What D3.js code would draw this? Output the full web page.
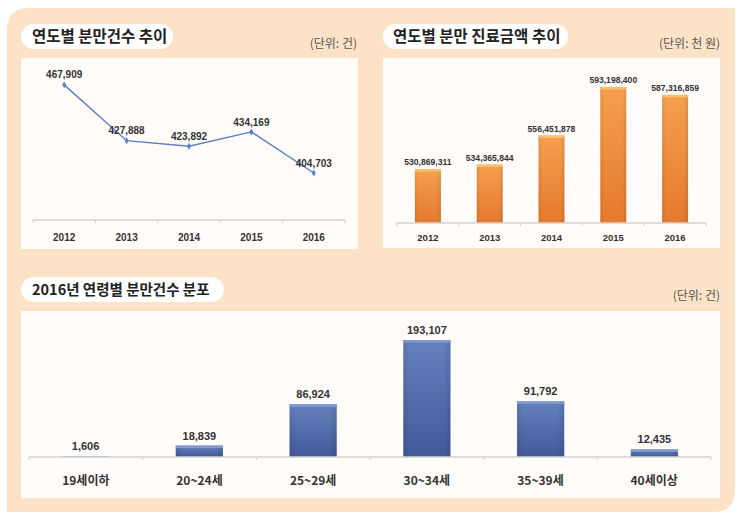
<!DOCTYPE html>
<html><head><meta charset="utf-8">
<script src="https://cdn.jsdelivr.net/npm/d3@7"></script>
<style>
html,body{margin:0;padding:0;background:#fff;}
svg{display:block;}
</style></head>
<body>
<script>
const years = ["2012","2013","2014","2015","2016"];
const birthCounts = [467909, 427888, 423892, 434169, 404703];
const medicalCosts = [530869311, 534365844, 556451878, 593198400, 587316859];
const ageGroups = ["19세이하","20~24세","25~29세","30~34세","35~39세","40세이상"];
const ageCounts = [1606, 18839, 86924, 193107, 91792, 12435];
const titles = ["연도별 분만건수 추이","연도별 분만 진료금액 추이","2016년 연령별 분만건수 분포"];
const units = ["(단위: 건)","(단위: 천 원)","(단위: 건)"];

const W = 743, H = 520;
const svg = d3.select("body").append("svg").attr("width", W).attr("height", H);
const KR = "'Noto Sans CJK KR','Noto Sans',sans-serif";
const NUM = "'Liberation Sans',Arial,sans-serif";
const fmt = d3.format(",");

const defs = svg.append("defs");
const og = defs.append("linearGradient").attr("id","og").attr("x1",0).attr("y1",0).attr("x2",0).attr("y2",1);
og.append("stop").attr("offset","0").attr("stop-color","#f5a04e");
og.append("stop").attr("offset","1").attr("stop-color","#e5792e");
const oh = defs.append("linearGradient").attr("id","oh").attr("x1",0).attr("y1",0).attr("x2",1).attr("y2",0);
oh.append("stop").attr("offset","0").attr("stop-color","#000").attr("stop-opacity",0.08);
oh.append("stop").attr("offset","0.15").attr("stop-color","#000").attr("stop-opacity",0);
oh.append("stop").attr("offset","0.85").attr("stop-color","#000").attr("stop-opacity",0);
oh.append("stop").attr("offset","1").attr("stop-color","#000").attr("stop-opacity",0.1);
const bg = defs.append("linearGradient").attr("id","bg").attr("x1",0).attr("y1",0).attr("x2",0).attr("y2",1);
bg.append("stop").attr("offset","0").attr("stop-color","#6482bd");
bg.append("stop").attr("offset","1").attr("stop-color","#42599a");

// peach background with rounded TL and BR corners
const x0=7,y0=8,x1=735,y1=512,r=22;
svg.append("path")
  .attr("d",`M${x0},${y0+r} Q${x0},${y0} ${x0+r},${y0} L${x1},${y0} L${x1},${y1-r} Q${x1},${y1} ${x1-r},${y1} L${x0},${y1} Z`)
  .attr("fill","#fce3c8");

// inner panels
const panels = [[21,58,337,191],[383,58,337,190],[21,311,699,187]];
panels.forEach(p=>svg.append("rect").attr("x",p[0]).attr("y",p[1]).attr("width",p[2]).attr("height",p[3]).attr("fill","#fffcf9"));

// title pills
const pills = [[21,24,152,25,32,15.5],[383,24,185,25,393,15.5],[21,277,203,25,32,14.5]];
pills.forEach((p,i)=>{
  svg.append("rect").attr("x",p[0]).attr("y",p[1]).attr("width",p[2]).attr("height",p[3]).attr("rx",12.5).attr("fill","#fff");
  svg.append("text").attr("x",p[4]).attr("y",p[1]+p[3]/2).attr("dy","0.36em")
    .attr("font-family",KR).attr("font-weight","bold").attr("font-size",p[5]).attr("fill","#222").text(titles[i]);
});
const unitPos = [[357,48],[720,48],[720,300]];
unitPos.forEach((u,i)=>svg.append("text").attr("x",u[0]).attr("y",u[1]).attr("text-anchor","end")
  .attr("font-family",KR).attr("font-size",12).attr("fill","#555").text(units[i]));

function drawAxis(xs, y, labelY, fontSize, fontFamily){
  const g = svg.append("g");
  const [a,b] = xs.range();
  g.append("line").attr("x1",a).attr("x2",b).attr("y1",y).attr("y2",y).attr("stroke","#d4d4d4").attr("stroke-width",1.5);
  const bw = xs.step();
  const ticks = d3.range(xs.domain().length+1).map(i=>a+i*bw);
  g.selectAll("line.t").data(ticks).join("line").attr("class","t")
    .attr("x1",d=>d).attr("x2",d=>d).attr("y1",y).attr("y2",y+3).attr("stroke","#cfcfcf").attr("stroke-width",1);
  g.selectAll("text").data(xs.domain()).join("text")
    .attr("x",d=>xs(d)+xs.bandwidth()/2).attr("y",labelY).attr("dy","0.36em").attr("text-anchor","middle")
    .attr("font-family",fontFamily).attr("font-weight","bold").attr("font-size",fontSize).attr("fill","#333").text(d=>d);
}

// ---- Chart 1: line
{
  const xs = d3.scaleBand().domain(years).range([33,345]);
  const ys = d3.scaleLinear().domain([371000,480000]).range([220,68]);
  drawAxis(xs,220,237,10,NUM);
  const cx = d=>xs(d)+xs.bandwidth()/2;
  const data = years.map((y,i)=>({y, v:birthCounts[i]}));
  svg.append("path").datum(data)
    .attr("d",d3.line().x(d=>cx(d.y)).y(d=>ys(d.v)))
    .attr("fill","none").attr("stroke","#5b7dc2").attr("stroke-width",1.4);
  svg.selectAll("path.m").data(data).join("path").attr("class","m")
    .attr("transform",d=>`translate(${cx(d.y)},${ys(d.v)})`)
    .attr("d",d3.symbol(d3.symbolDiamond,14)).attr("fill","#5b7dc2");
  svg.selectAll("text.v1").data(data).join("text").attr("class","v1")
    .attr("x",d=>cx(d.y)).attr("y",d=>ys(d.v)-10).attr("dy","0.36em").attr("text-anchor","middle")
    .attr("font-family",NUM).attr("font-weight","bold").attr("font-size",10).attr("fill","#333").text(d=>fmt(d.v));
}

// ---- Chart 2: orange bars
{
  const xs = d3.scaleBand().domain(years).range([397,706]).paddingInner(0.58).paddingOuter(0.29);
  const ys = d3.scaleLinear().domain([490000000,610000000]).range([223,65]);
  const data = years.map((y,i)=>({y, v:medicalCosts[i]}));
  const g = svg.append("g");
  g.selectAll("rect.b").data(data).join("rect").attr("class","b")
    .attr("x",d=>xs(d.y)).attr("y",d=>ys(d.v)).attr("width",xs.bandwidth()).attr("height",d=>ys.range()[0]-ys(d.v))
    .attr("fill","url(#og)");
  g.selectAll("rect.s").data(data).join("rect").attr("class","s")
    .attr("x",d=>xs(d.y)).attr("y",d=>ys(d.v)).attr("width",xs.bandwidth()).attr("height",d=>ys.range()[0]-ys(d.v))
    .attr("fill","url(#oh)");
  g.selectAll("rect.t").data(data).join("rect").attr("class","t")
    .attr("x",d=>xs(d.y)).attr("y",d=>ys(d.v)).attr("width",xs.bandwidth()).attr("height",2.5)
    .attr("fill","#fbbd6e");
  drawAxis(d3.scaleBand().domain(years).range([397,706]),223,238,9.5,NUM);
  g.selectAll("text.v").data(data).join("text").attr("class","v")
    .attr("x",d=>xs(d.y)+xs.bandwidth()/2).attr("y",d=>ys(d.v)-7).attr("dy","0.36em").attr("text-anchor","middle")
    .attr("font-family",NUM).attr("font-weight","bold").attr("font-size",8.6).attr("fill","#333").text(d=>fmt(d.v));
}

// ---- Chart 3: blue bars
{
  const band = d3.scaleBand().domain(ageGroups).range([29,711]);
  const xs = d3.scaleBand().domain(ageGroups).range([29,711]).paddingInner(0.585).paddingOuter(0.29);
  const ys = d3.scaleLinear().domain([0,240000]).range([457,311.6]);
  const data = ageGroups.map((a,i)=>({a, v:ageCounts[i]}));
  const g = svg.append("g");
  g.selectAll("rect.b").data(data).join("rect").attr("class","b")
    .attr("x",d=>xs(d.a)).attr("y",d=>ys(d.v)).attr("width",xs.bandwidth()).attr("height",d=>ys(0)-ys(d.v))
    .attr("fill","url(#bg)");
  g.selectAll("rect.s").data(data).join("rect").attr("class","s")
    .attr("x",d=>xs(d.a)).attr("y",d=>ys(d.v)).attr("width",xs.bandwidth()).attr("height",d=>ys(0)-ys(d.v))
    .attr("fill","url(#oh)");
  g.selectAll("rect.t").data(data).join("rect").attr("class","t")
    .attr("x",d=>xs(d.a)).attr("y",d=>ys(d.v)).attr("width",xs.bandwidth()).attr("height",d=>Math.min(2.5,ys(0)-ys(d.v)))
    .attr("fill","#7f9bd0");
  drawAxis(band,457,481,12,KR);
  g.selectAll("text.v").data(data).join("text").attr("class","v")
    .attr("x",d=>xs(d.a)+xs.bandwidth()/2).attr("y",d=>ys(d.v)-10).attr("dy","0.36em").attr("text-anchor","middle")
    .attr("font-family",NUM).attr("font-weight","bold").attr("font-size",11).attr("fill","#333").text(d=>fmt(d.v));
}
</script>
</body></html>
